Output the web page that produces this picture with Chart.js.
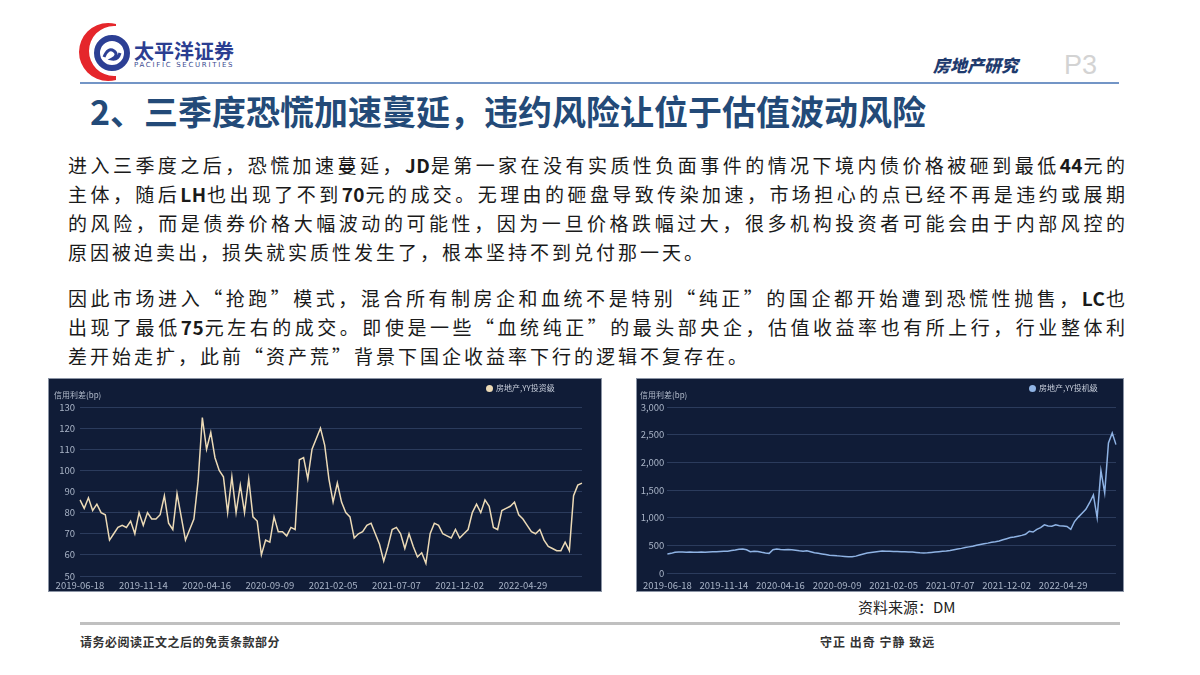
<!DOCTYPE html>
<html>
<head>
<meta charset="utf-8">
<script src="https://cdn.jsdelivr.net/npm/chart.js@4.4.1/dist/chart.umd.min.js"></script>
<style>
  html, body { margin: 0; padding: 0; background: #fff; }
  body { width: 1200px; height: 675px; position: relative; overflow: hidden;
         font-family: "Noto Sans CJK SC", "Noto Sans", sans-serif; }
  .abs { position: absolute; }
  .brand { left: 134px; top: 41px; font-size: 20px; line-height: 20px; font-weight: 700; color: #2b3e91; }
  .brand-en { left: 134px; top: 61px; font-size: 7px; line-height: 8px; color: #3a4a8f; letter-spacing: 1.7px; font-family: "DejaVu Sans", sans-serif; }
  .topline { left: 80px; top: 82px; width: 1039px; height: 2px; background: #7395c6; }
  .section { left: 933px; top: 52px; font-size: 17px; font-weight: 900; color: #1f3b6e; font-style: italic; }
  .page { left: 1064px; top: 50px; font-size: 27px; color: #d3d3d3; font-family: "Liberation Sans", sans-serif; }
  .title { left: 90px; top: 86px; font-size: 34px; font-weight: 700; color: #234a78; white-space: nowrap; }
  .para { left: 68px; width: 1060px; font-size: 19px; color: #1a1a1a; letter-spacing: 3px; }
  .para div { height: 29px; line-height: 29px; text-align: justify; text-align-last: justify; white-space: nowrap; }
  .para div.last { text-align-last: left; }
  .para b { letter-spacing: 0.5px; font-weight: 700; }
  .panel { background: #101c37; border: 1px solid #8b94a5; box-sizing: border-box; }
  .axis-title { font-size: 8px; color: #b3bccc; }
  .legend { font-size: 8px; color: #c7cedb; white-space: nowrap; }
  .legend i { display: inline-block; width: 7px; height: 7px; border-radius: 50%; vertical-align: -1px; margin-right: 3px; }
  .source { left: 858px; top: 596px; font-size: 15px; color: #222; }
  .footline { left: 80px; top: 622px; width: 1040px; height: 3px; background: #c0c0c0; }
  .foot { top: 633px; font-size: 12px; font-weight: 700; color: #333; letter-spacing: 0.5px; }
</style>
</head>
<body>

<!-- logo -->
<svg class="abs" style="left:0;top:0" width="140" height="90">
  <defs>
    <clipPath id="lc"><rect x="70" y="15" width="46" height="70"/></clipPath>
  </defs>
  <path clip-path="url(#lc)" fill="#e5262b" fill-rule="evenodd"
        d="M79,52 a29,29 0 1,0 58,0 a29,29 0 1,0 -58,0 Z M89,51 a25,25 0 1,0 50,0 a25,25 0 1,0 -50,0 Z"/>
  <circle cx="112" cy="53" r="15" fill="none" stroke="#2c3f94" stroke-width="6"/>
  <path d="M104,57 q4,-10 10,-6 q5,4 -2,8 q6,1 8,-6" fill="none" stroke="#2c3f94" stroke-width="3"/>
</svg>
<div class="abs brand">太平洋证券</div>
<div class="abs brand-en">PACIFIC SECURITIES</div>

<div class="abs section">房地产研究</div>
<div class="abs page">P3</div>
<div class="abs topline"></div>

<div class="abs title">2、三季度恐慌加速蔓延，违约风险让位于估值波动风险</div>

<div class="abs para" style="top:150px">
  <div>进入三季度之后，恐慌加速蔓延，<b>JD</b>是第一家在没有实质性负面事件的情况下境内债价格被砸到最低<b>44</b>元的</div>
  <div>主体，随后<b>LH</b>也出现了不到<b>70</b>元的成交。无理由的砸盘导致传染加速，市场担心的点已经不再是违约或展期</div>
  <div>的风险，而是债券价格大幅波动的可能性，因为一旦价格跌幅过大，很多机构投资者可能会由于内部风控的</div>
  <div class="last">原因被迫卖出，损失就实质性发生了，根本坚持不到兑付那一天。</div>
</div>
<div class="abs para" style="top:283px">
  <div>因此市场进入“抢跑”模式，混合所有制房企和血统不是特别“纯正”的国企都开始遭到恐慌性抛售，<b>LC</b>也</div>
  <div>出现了最低<b>75</b>元左右的成交。即使是一些“血统纯正”的最头部央企，估值收益率也有所上行，行业整体利</div>
  <div class="last">差开始走扩，此前“资产荒”背景下国企收益率下行的逻辑不复存在。</div>
</div>

<!-- charts -->
<div class="abs panel" style="left:48px;top:378px;width:554px;height:214px"></div>
<div class="abs" style="left:48px;top:378px;width:554px;height:214px"><canvas id="leftChart"></canvas></div>
<div class="abs axis-title" style="left:54px;top:389px">信用利差(bp)</div>
<div class="abs legend" style="left:486px;top:382px"><i style="background:#ecdab6"></i>房地产,YY投资级</div>

<div class="abs panel" style="left:636px;top:378px;width:488px;height:214px"></div>
<div class="abs" style="left:636px;top:378px;width:488px;height:214px"><canvas id="rightChart"></canvas></div>
<div class="abs axis-title" style="left:640px;top:389px">信用利差(bp)</div>
<div class="abs legend" style="left:1029px;top:382px"><i style="background:#8fb3e4"></i>房地产,YY投机级</div>

<div class="abs source">资料来源：DM</div>
<div class="abs footline"></div>
<div class="abs foot" style="left:80px">请务必阅读正文之后的免责条款部分</div>
<div class="abs foot" style="left:820px;letter-spacing:1px">守正 出奇 宁静 致远</div>

<script>
// tick labels on the x axis, one every 15 points
const tickLabels = ['2019-06-18', '2019-11-14', '2020-04-16', '2020-09-09',
                    '2021-02-05', '2021-07-07', '2021-12-02', '2022-04-29'];
const tickEvery = 15;

// 房地产,YY投资级 (bp)
const investGrade = [
  86, 82, 87, 81, 84, 80, 79, 67, 70, 73,
  74, 73, 76, 70, 80, 74, 80, 77, 77, 79,
  88, 75, 72, 89, 78, 67, 72, 77, 95, 125,
  110, 118, 106, 100, 97, 80, 97, 80, 93, 80,
  96, 78, 76, 60, 67, 66, 78, 71, 71, 69,
  73, 72, 105, 106, 96, 110, 115, 120, 112, 96,
  85, 94, 85, 80, 78, 68, 70, 71, 74, 75,
  70, 65, 57, 64, 72, 73, 70, 63, 70, 64,
  59, 61, 56, 70, 75, 74, 70, 69, 68, 72,
  68, 70, 72, 80, 84, 80, 86, 83, 73, 72,
  81, 82, 83, 85, 79, 77, 74, 71, 70, 72,
  67, 64, 63, 62, 62, 66, 62, 88, 93, 94
];

// 房地产,YY投机级 (bp)
const highYield = [
  345, 355, 375, 380, 378, 375, 378, 376, 375, 378,
  377, 380, 382, 385, 388, 392, 395, 405, 415, 430,
  432, 420, 385, 395, 390, 375, 362, 355, 420, 432,
  425, 420, 425, 418, 410, 400, 395, 400, 385, 365,
  355, 345, 335, 322, 318, 310, 305, 300, 295, 292,
  305, 325, 345, 360, 370, 380, 390, 398, 395, 392,
  390, 388, 385, 382, 380, 378, 372, 365, 360, 365,
  372, 378, 385, 392, 398, 408, 420, 432, 445, 460,
  472, 482, 500, 515, 530, 540, 555, 565, 578, 600,
  620, 640, 650, 665, 680, 700, 755, 740, 790, 820,
  870, 850, 845, 870, 855, 850, 840, 790, 930, 1010,
  1080, 1150, 1270, 1410, 1000, 1850, 1450, 2350, 2530, 2320
];

function makeLabels(n) {
    const labels = [];
    for (let i = 0; i < n; i++) {
        labels.push(i % tickEvery === 0 ? (tickLabels[i / tickEvery] || '') : '');
    }
    return labels;
}

const tickColor = '#a9b4c7';
const gridColor = '#2b3b5c';
const tickFont = { family: '"Noto Sans CJK SC", "Noto Sans", sans-serif', size: 9.5 };

function buildChart(id, values, color, yOpts, pad, yWidth, xHeight, xPad) {
    return new Chart(document.getElementById(id), {
        type: 'line',
        data: {
            labels: makeLabels(values.length),
            datasets: [{
                data: values,
                borderColor: color,
                borderWidth: 1.5,
                pointRadius: 0,
                tension: 0
            }]
        },
        options: {
            responsive: true,
            maintainAspectRatio: false,
            animation: false,
            layout: { padding: pad },
            plugins: { legend: { display: false }, tooltip: { enabled: false } },
            scales: {
                x: {
                    grid: { display: false, drawTicks: false },
                    border: { display: false },
                    ticks: { autoSkip: false, maxRotation: 0, minRotation: 0,
                             color: tickColor, font: tickFont, padding: xPad },
                    afterFit: function (axis) { axis.height = xHeight; }
                },
                y: Object.assign({
                    grid: { color: gridColor, lineWidth: 1, drawTicks: false },
                    border: { display: false },
                    afterFit: function (axis) { axis.width = yWidth; }
                }, yOpts)
            }
        }
    });
}

buildChart('leftChart', investGrade, '#ecdab6',
    { min: 50, max: 130, ticks: { stepSize: 10, color: tickColor, font: tickFont, padding: 5 } },
    { top: 29, right: 20, left: 0, bottom: 0 }, 32, 16, 4);

buildChart('rightChart', highYield, '#8fb3e4',
    { min: 0, max: 3000, ticks: { stepSize: 500, color: tickColor, font: tickFont, padding: 3 } },
    { top: 29, right: 8, left: 0, bottom: 0 }, 28, 19, 7);
</script>
</body>
</html>
